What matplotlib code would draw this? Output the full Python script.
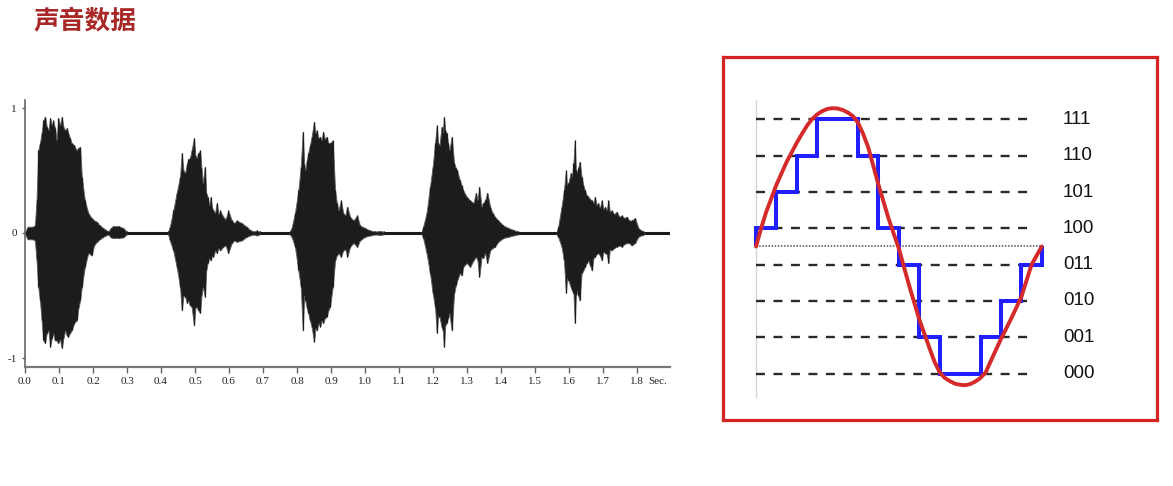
import numpy as np
import matplotlib
matplotlib.use("Agg")
import matplotlib.pyplot as plt

# ---- left: speech waveform envelope, (time [s], upper peak, lower peak) ----
burst_1 = [
    (0.000, 0.01, -0.01), (0.008, 0.05, -0.05), (0.022, 0.05, -0.05), (0.029, 0.06, -0.06),
    (0.034, 0.26, -0.22), (0.039, 0.66, -0.43), (0.044, 0.72, -0.54), (0.049, 0.80, -0.70),
    (0.054, 0.90, -0.86), (0.059, 0.93, -0.88), (0.064, 0.85, -0.80), (0.069, 0.82, -0.78),
    (0.074, 0.92, -0.91), (0.079, 0.86, -0.84), (0.083, 0.90, -0.80), (0.088, 0.84, -0.86),
    (0.093, 0.74, -0.86), (0.098, 0.92, -0.88), (0.103, 0.86, -0.85), (0.108, 0.93, -0.92),
    (0.113, 0.85, -0.84), (0.118, 0.82, -0.78), (0.123, 0.84, -0.82), (0.127, 0.80, -0.83),
    (0.132, 0.76, -0.80), (0.137, 0.72, -0.78), (0.145, 0.70, -0.72), (0.152, 0.66, -0.70),
    (0.157, 0.68, -0.60), (0.162, 0.69, -0.54), (0.167, 0.45, -0.43), (0.176, 0.26, -0.27),
    (0.186, 0.16, -0.16), (0.196, 0.12, -0.18), (0.203, 0.10, -0.10), (0.211, 0.09, -0.07),
    (0.220, 0.06, -0.05), (0.230, 0.04, -0.03), (0.245, 0.012, -0.012), (0.252, 0.04, -0.035),
    (0.260, 0.055, -0.04), (0.275, 0.055, -0.04), (0.289, 0.04, -0.035), (0.299, 0.012, -0.012),
]
burst_2 = [
    (0.421, 0.012, -0.012), (0.426, 0.05, -0.06), (0.436, 0.18, -0.14), (0.446, 0.32, -0.27),
    (0.456, 0.45, -0.43), (0.461, 0.64, -0.62), (0.466, 0.50, -0.50), (0.471, 0.48, -0.51),
    (0.476, 0.55, -0.56), (0.480, 0.59, -0.54), (0.485, 0.60, -0.58), (0.490, 0.66, -0.59),
    (0.497, 0.76, -0.74), (0.501, 0.62, -0.60), (0.505, 0.60, -0.59), (0.510, 0.64, -0.62),
    (0.515, 0.66, -0.64), (0.519, 0.52, -0.50), (0.523, 0.40, -0.43), (0.529, 0.53, -0.51),
    (0.533, 0.32, -0.30), (0.537, 0.29, -0.24), (0.542, 0.22, -0.20), (0.546, 0.29, -0.22),
    (0.550, 0.20, -0.18), (0.554, 0.18, -0.19), (0.559, 0.16, -0.14), (0.564, 0.24, -0.16),
    (0.569, 0.15, -0.12), (0.574, 0.18, -0.14), (0.583, 0.13, -0.11), (0.590, 0.11, -0.10),
    (0.598, 0.18, -0.16), (0.608, 0.10, -0.08), (0.615, 0.08, -0.06), (0.623, 0.10, -0.07),
    (0.637, 0.08, -0.06), (0.652, 0.05, -0.03), (0.662, 0.025, -0.02), (0.672, 0.012, -0.012),
    (0.681, 0.02, -0.02), (0.690, 0.012, -0.012),
]
burst_3 = [
    (0.779, 0.012, -0.012), (0.784, 0.04, -0.03), (0.794, 0.16, -0.11), (0.804, 0.34, -0.30),
    (0.811, 0.53, -0.43), (0.817, 0.81, -0.78), (0.821, 0.55, -0.50), (0.824, 0.50, -0.54),
    (0.829, 0.58, -0.60), (0.833, 0.64, -0.64), (0.838, 0.70, -0.70), (0.843, 0.77, -0.75),
    (0.850, 0.89, -0.87), (0.854, 0.80, -0.76), (0.858, 0.82, -0.78), (0.863, 0.76, -0.72),
    (0.868, 0.77, -0.75), (0.872, 0.74, -0.70), (0.877, 0.81, -0.72), (0.882, 0.75, -0.68),
    (0.887, 0.77, -0.67), (0.892, 0.72, -0.62), (0.897, 0.72, -0.59), (0.905, 0.74, -0.43),
    (0.912, 0.34, -0.22), (0.917, 0.24, -0.18), (0.922, 0.18, -0.16), (0.929, 0.26, -0.19),
    (0.936, 0.16, -0.14), (0.942, 0.14, -0.13), (0.948, 0.21, -0.19), (0.956, 0.13, -0.11),
    (0.966, 0.10, -0.08), (0.977, 0.14, -0.11), (0.985, 0.06, -0.06), (1.000, 0.04, -0.03),
    (1.015, 0.02, -0.02), (1.030, 0.012, -0.012), (1.044, 0.015, -0.015), (1.055, 0.012, -0.012),
]
burst_4 = [
    (1.167, 0.012, -0.012), (1.171, 0.05, -0.04), (1.181, 0.16, -0.16), (1.191, 0.37, -0.32),
    (1.199, 0.53, -0.48), (1.206, 0.72, -0.59), (1.211, 0.86, -0.80), (1.215, 0.72, -0.66),
    (1.219, 0.70, -0.67), (1.225, 0.85, -0.75), (1.229, 0.80, -0.78), (1.232, 0.93, -0.91),
    (1.236, 0.82, -0.74), (1.240, 0.80, -0.72), (1.244, 0.72, -0.68), (1.248, 0.66, -0.64),
    (1.255, 0.77, -0.78), (1.262, 0.56, -0.48), (1.267, 0.52, -0.42), (1.271, 0.50, -0.38),
    (1.279, 0.42, -0.32), (1.284, 0.38, -0.34), (1.289, 0.34, -0.27), (1.299, 0.29, -0.24),
    (1.309, 0.26, -0.27), (1.319, 0.24, -0.22), (1.326, 0.32, -0.19), (1.331, 0.26, -0.22),
    (1.336, 0.37, -0.35), (1.343, 0.21, -0.19), (1.348, 0.24, -0.20), (1.353, 0.26, -0.16),
    (1.360, 0.32, -0.24), (1.368, 0.21, -0.14), (1.375, 0.16, -0.12), (1.382, 0.13, -0.11),
    (1.392, 0.10, -0.07), (1.407, 0.06, -0.04), (1.422, 0.04, -0.03), (1.436, 0.025, -0.02),
    (1.450, 0.012, -0.012),
]
burst_5 = [
    (1.564, 0.012, -0.012), (1.568, 0.05, -0.03), (1.578, 0.21, -0.11), (1.585, 0.34, -0.22),
    (1.591, 0.50, -0.48), (1.594, 0.38, -0.36), (1.598, 0.40, -0.38), (1.605, 0.48, -0.43),
    (1.609, 0.45, -0.46), (1.613, 0.56, -0.48), (1.617, 0.74, -0.72), (1.620, 0.50, -0.50),
    (1.623, 0.48, -0.46), (1.627, 0.52, -0.50), (1.631, 0.57, -0.54), (1.637, 0.45, -0.32),
    (1.642, 0.38, -0.30), (1.647, 0.34, -0.27), (1.652, 0.30, -0.24), (1.657, 0.29, -0.22),
    (1.662, 0.27, -0.26), (1.667, 0.26, -0.30), (1.672, 0.24, -0.20), (1.676, 0.29, -0.19),
    (1.681, 0.22, -0.17), (1.686, 0.24, -0.16), (1.691, 0.20, -0.18), (1.696, 0.26, -0.22),
    (1.701, 0.19, -0.15), (1.706, 0.21, -0.16), (1.711, 0.18, -0.17), (1.716, 0.26, -0.24),
    (1.720, 0.17, -0.13), (1.725, 0.18, -0.14), (1.733, 0.15, -0.12), (1.740, 0.17, -0.11),
    (1.748, 0.13, -0.10), (1.755, 0.14, -0.11), (1.762, 0.12, -0.09), (1.770, 0.13, -0.08),
    (1.777, 0.10, -0.08), (1.784, 0.10, -0.10), (1.794, 0.12, -0.08), (1.804, 0.04, -0.03),
    (1.812, 0.02, -0.02), (1.819, 0.015, -0.015),
]
bursts = [burst_1, burst_2, burst_3, burst_4, burst_5]

time_ticks = [0.0, 0.1, 0.2, 0.3, 0.4, 0.5, 0.6, 0.7, 0.8, 0.9,
              1.0, 1.1, 1.2, 1.3, 1.4, 1.5, 1.6, 1.7, 1.8]
amp_ticks = [-1, 0, 1]

# ---- right: 3-bit quantisation of one period ----
level_codes = ["111", "110", "101", "100", "011", "010", "001", "000"]
level_values = [3.5, 2.5, 1.5, 0.5, -0.5, -1.5, -2.5, -3.5]
sample_edges = list(range(15))
sample_levels = [0.5, 1.5, 2.5, 3.5, 3.5, 2.5, 0.5, -0.5, -2.5, -3.5, -3.5, -2.5, -1.5, -0.5]
analog_x = [0.0, 0.25, 0.5, 1.0, 1.5, 2.0, 2.25, 2.5, 2.75, 3.0, 3.25, 3.5, 3.75, 4.0, 4.25,
            4.5, 4.75, 5.0, 5.25, 5.5, 6.0, 6.5, 7.0, 7.5, 8.0, 8.5, 8.75, 9.0, 9.25, 9.5,
            9.75, 10.0, 10.25, 10.5, 10.75, 11.0, 11.25, 11.5, 12.0, 12.5, 13.0, 13.5, 13.75, 14.0]
analog_y = [0.0, 0.50, 0.95, 1.70, 2.33, 2.86, 3.10, 3.33, 3.51, 3.64, 3.73, 3.79, 3.81, 3.80, 3.76,
            3.69, 3.59, 3.41, 3.10, 2.73, 1.70, 0.76, -0.06, -1.07, -2.01, -2.80, -3.18, -3.47, -3.62, -3.71,
            -3.78, -3.81, -3.82, -3.79, -3.72, -3.62, -3.47, -3.16, -2.55, -1.99, -1.39, -0.50, -0.25, 0.0]

W, H = 1173, 486
fig = plt.figure(figsize=(W / 100, H / 100), dpi=100)

fig.text(33 / W, 1 - 21 / H, "声音数据", color="#a82828", fontsize=18.5,
         fontweight="bold", family=["Noto Sans CJK SC", "DejaVu Sans"], va="center", ha="left")

# left waveform
ax1 = fig.add_axes([25 / W, 1 - 367 / H, 645 / W, 267 / H])
ax1.axhline(0, color="#1a1a1a", lw=2.2, zorder=1)
for b in bursts:
    t = [p[0] for p in b]
    top = [p[1] for p in b]
    bot = [p[2] for p in b]
    ax1.fill_between(t, bot, top, color="#1c1c1c", lw=0.7, edgecolor="#666666", zorder=2)
    ax1.vlines(t, bot, top, color="#1c1c1c", lw=0.9, zorder=2)
ax1.set_xlim(0, 1.897)
ax1.set_ylim(-1.072, 1.064)
for s in ["top", "right"]:
    ax1.spines[s].set_visible(False)
ax1.spines["left"].set_color("#666666")
ax1.spines["left"].set_linewidth(1.2)
ax1.spines["bottom"].set_color("#777777")
ax1.spines["bottom"].set_linewidth(1.6)
ax1.set_xticks(time_ticks)
ax1.set_xticklabels(["%.1f" % v for v in time_ticks])
ax1.set_yticks(amp_ticks)
ax1.set_yticklabels([str(v) for v in amp_ticks])
ax1.tick_params(axis="x", length=4, width=1, color="#666666", pad=3, labelsize=8)
ax1.tick_params(axis="y", length=2, width=1, color="#666666", pad=4, labelsize=8)
for lab in ax1.get_xticklabels() + ax1.get_yticklabels():
    lab.set_family("Liberation Serif")
    lab.set_color("#222222")
ax1.text(1.832, -1.184, "Sec.", va="center", ha="left",
         fontsize=8, family="Liberation Serif", color="#222222", clip_on=False)

# right quantisation panel
ax2 = fig.add_axes([723 / W, 1 - 420 / H, 434 / W, 363 / H])
ax2.set_xlim(-1.617, 19.647)
ax2.set_ylim(-4.78, 5.22)
ax2.set_xticks([])
ax2.set_yticks([])
for s in ax2.spines.values():
    s.set_color("#d42424")
    s.set_linewidth(2.3)

ax2.plot([0, 0], [-4.15, 4.03], color="#d6d6d6", lw=1, zorder=1)
for v, code in zip(level_values, level_codes):
    ax2.plot([0, 13.5], [v, v], color="#2a2a2a", lw=1.7, linestyle=(0, (3.8, 3.6)), zorder=1)
    ax2.text(15.04, v, code, va="center", ha="left", fontsize=13.5,
             family="Liberation Sans", color="#111111")
ax2.plot([0, 14], [0, 0], color="#777777", lw=1.4, linestyle=(0, (0.8, 0.8)), zorder=1)

ax2.stairs(sample_levels, sample_edges, baseline=0, color="#1f1fff", lw=2.9, zorder=2)
ax2.plot(analog_x, analog_y, color="#d42a2a", lw=2.8, zorder=3,
         solid_capstyle="round", solid_joinstyle="round")

fig.savefig("out.png", dpi=100)
